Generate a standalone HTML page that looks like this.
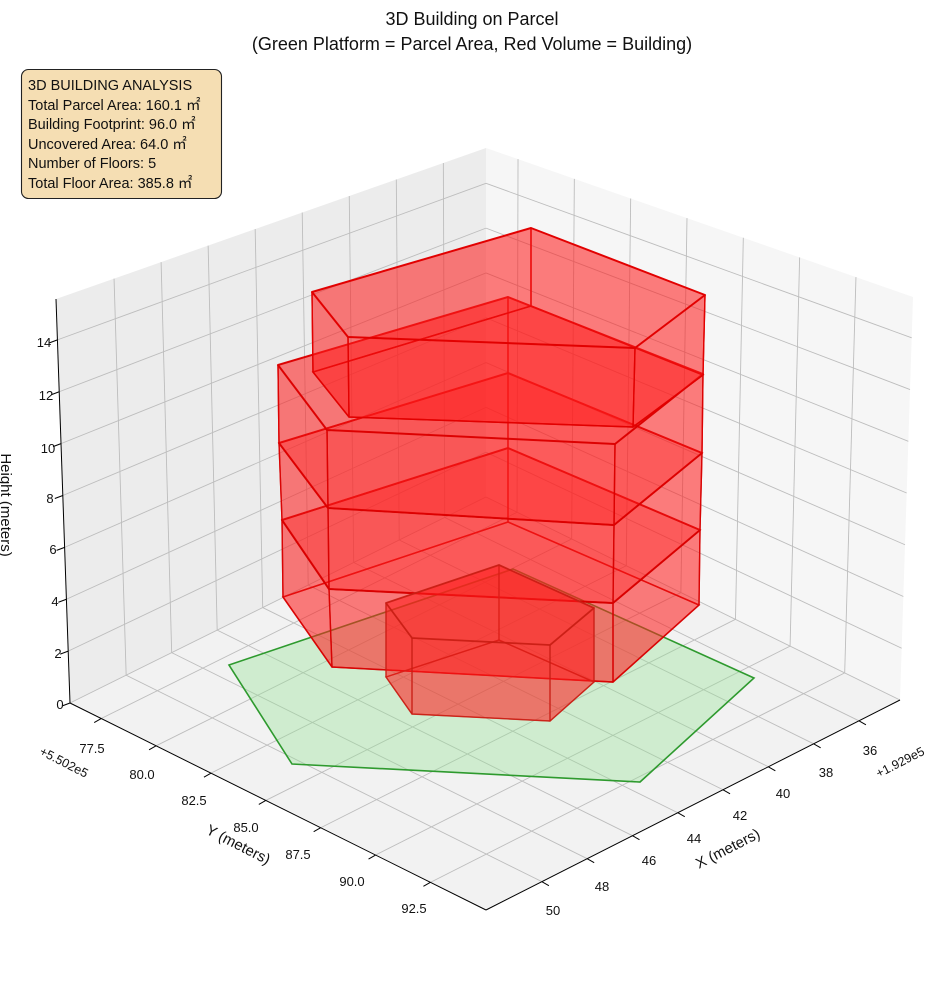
<!DOCTYPE html>
<html><head><meta charset="utf-8"><style>
html,body{margin:0;padding:0;background:#fff;}
svg{display:block;font-family:"Liberation Sans","DejaVu Sans",sans-serif;}
</style></head><body>
<svg id="s" width="944" height="992" viewBox="0 0 944 992" xmlns="http://www.w3.org/2000/svg">
<g id="panes"></g>
<g id="grid" stroke="#bdbdbd" stroke-width="0.9" fill="none"></g>
<polygon points="229,665 513,569 754,678 640,782 292,764" fill="rgba(150,225,150,0.38)" stroke="#2e9a2e" stroke-width="1.6"/>
<g id="bld"></g>
<g id="axes" stroke="#000" stroke-width="1" fill="none"></g>
<g font-size="13" fill="#111" text-anchor="middle">
<text x="44" y="347">14</text><text x="46" y="400">12</text><text x="48" y="453">10</text>
<text x="50" y="503">8</text><text x="53" y="554">6</text><text x="55" y="606">4</text>
<text x="58" y="658">2</text><text x="60" y="709">0</text>
<text x="92" y="753">77.5</text><text x="142" y="779">80.0</text><text x="194" y="805">82.5</text>
<text x="246" y="832">85.0</text><text x="298" y="859">87.5</text><text x="352" y="886">90.0</text><text x="414" y="913">92.5</text>
<text x="553" y="915">50</text><text x="602" y="891">48</text><text x="649" y="865">46</text>
<text x="694" y="843">44</text><text x="740" y="820">42</text><text x="783" y="798">40</text>
<text x="826" y="777">38</text><text x="870" y="755">36</text>
<text transform="translate(62,766) rotate(27)" font-size="12.5">+5.502e5</text>
<text transform="translate(902,766) rotate(-27)" font-size="12.5">+1.929e5</text>
<text transform="translate(236,849) rotate(27)" font-size="15">Y (meters)</text>
<text transform="translate(730,853) rotate(-27)" font-size="15">X (meters)</text>
<text transform="translate(1,505) rotate(90)" font-size="15">Height (meters)</text>
</g>
<g text-anchor="middle" font-size="18" fill="#111">
<text x="472" y="25">3D Building on Parcel</text>
<text x="472" y="50">(Green Platform = Parcel Area, Red Volume = Building)</text>
</g>
<rect x="21.5" y="69.5" width="200" height="129" rx="7" fill="#f5deb3" stroke="#222" stroke-width="1.1"/>
<g font-size="14.5" fill="#111">
<text x="28" y="90">3D BUILDING ANALYSIS</text>
<text x="28" y="110">Total Parcel Area: 160.1 ㎡</text>
<text x="28" y="129">Building Footprint: 96.0 ㎡</text>
<text x="28" y="149">Uncovered Area: 64.0 ㎡</text>
<text x="28" y="168">Number of Floors: 5</text>
<text x="28" y="188">Total Floor Area: 385.8 ㎡</text>
</g>
</svg>
<script>
var NS="http://www.w3.org/2000/svg";
function el(p,t,a){var e=document.createElementNS(NS,t);for(var k in a)e.setAttribute(k,a[k]);p.appendChild(e);return e;}
function L(a,b,t){return [a[0]+(b[0]-a[0])*t,a[1]+(b[1]-a[1])*t];}
function pts(a){return a.map(function(p){return p[0].toFixed(1)+","+p[1].toFixed(1)}).join(" ");}
var LT=[56,299],LB=[70,703],BT=[486,148],BB=[486,497],RT=[913,297],RB=[900,700],F=[486,910];
var panes=document.getElementById("panes"),grid=document.getElementById("grid"),axes=document.getElementById("axes");
el(panes,"polygon",{points:pts([LB,LT,BT,BB]),fill:"#ececec"});
el(panes,"polygon",{points:pts([BB,BT,RT,RB]),fill:"#f6f6f6"});
el(panes,"polygon",{points:pts([LB,BB,RB,F]),fill:"#f2f2f2"});
function line(g,a,b){el(g,"line",{x1:a[0],y1:a[1],x2:b[0],y2:b[1]});}
var Xs=[50,48,46,44,42,40,38,36],Ys=[77.5,80,82.5,85,87.5,90,92.5],Zs=[0,2,4,6,8,10,12,14];
function fX(x){return 0.135+(50-x)/2*0.1094;}
function gY(y){return 0.075+(y-77.5)/2.5*0.1319;}
function hZ(z){return z*0.0642;}
Xs.forEach(function(x){var f=fX(x);
  line(grid,L(LB,BB,f),L(LT,BT,f));
  line(grid,L(LB,BB,f),L(F,RB,f));
  var p=L(F,RB,f);line(axes,p,[p[0]+7,p[1]+4]);
});
Ys.forEach(function(y){var g=gY(y);
  line(grid,L(BB,RB,g),L(BT,RT,g));
  line(grid,L(BB,RB,g),L(LB,F,g));
  var p=L(LB,F,g);line(axes,p,[p[0]-7,p[1]+4]);
});
Zs.forEach(function(z){var h=hZ(z);
  var a=L(LB,LT,h),b=L(BB,BT,h),c=L(RB,RT,h);
  line(grid,a,b);line(grid,b,c);
  line(axes,a,[a[0]-8,a[1]+3]);
});
line(axes,LT,LB);line(axes,LB,F);line(axes,F,RB);
var bld=document.getElementById("bld");
function prism(B,T,sw,sc,fillBottom){
  var n=B.length,fill="rgba(255,30,30,0.34)";
  el(bld,"polygon",{points:pts(B),fill:fillBottom?fill:"none",stroke:sc,"stroke-width":sw*0.8});
  for(var i=0;i<n;i++){var j=(i+1)%n;
    el(bld,"polygon",{points:pts([B[i],B[j],T[j],T[i]]),fill:fill,stroke:sc,"stroke-width":sw*0.7,"stroke-linejoin":"round"});}
  el(bld,"polygon",{points:pts(T),fill:fill,stroke:sc,"stroke-width":sw,"stroke-linejoin":"round"});
}
var L0=[[283,597],[508,522],[699,605],[613,682],[332,667]];
var L1=[[282,520],[508,448],[700,530],[613,603],[329,589]];
var L2=[[279,443],[508,373],[702,453],[614,525],[328,508]];
var L3=[[278,365],[508,297],[703,374],[615,444],[327,430]];
var SB=[[386,677],[499,640],[594,682],[550,721],[412,714]];
var ST=[[386,603],[499,565],[594,608],[550,645],[412,638]];
var TB=[[313,372],[531,306],[703,375],[633,427],[349,417]];
var TT=[[312,292],[531,228],[705,295],[635,348],[348,337]];
prism(L0,L1,2,"rgba(215,0,0,0.85)",true);
prism(L1,L2,2,"rgba(215,0,0,0.85)",false);
prism(L2,L3,2,"rgba(220,0,0,0.9)",false);
prism(TB,TT,2,"rgba(225,0,0,0.95)",true);
prism(SB,ST,1.8,"rgba(200,30,20,0.8)",true);
</script>
</body></html>
